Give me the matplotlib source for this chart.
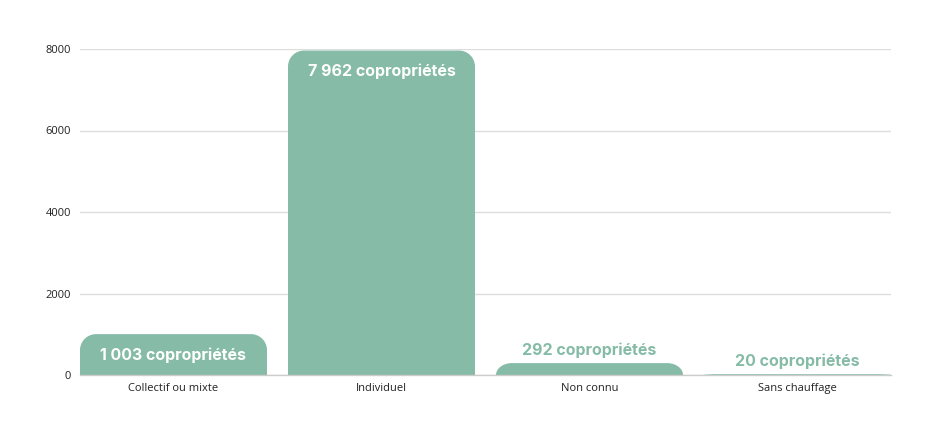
import numpy as np
import matplotlib
matplotlib.use("Agg")
import matplotlib.pyplot as plt
from matplotlib.path import Path
from matplotlib.patches import PathPatch

categories = ["Collectif ou mixte", "Individuel", "Non connu", "Sans chauffage"]
values = [1003, 7962, 292, 20]
labels = ["1 003 copropriétés", "7 962 copropriétés", "292 copropriétés", "20 copropriétés"]
yticks = [0, 2000, 4000, 6000, 8000]

BAR_COLOR = "#85bba7"
W, H, DPI = 935, 437, 100

fig = plt.figure(figsize=(W / DPI, H / DPI), dpi=DPI)
ax = fig.add_axes([80 / W, 62 / H, 811 / W, 326 / H])

step_px = 208.0
bar_w = 187 / step_px
ax.set_xlim(-bar_w / 2, len(categories) - 1 + bar_w / 2)
ax.set_ylim(0, 8000)

# pixel -> data conversion for rounded corners
px_x = 1 / step_px
px_y = 8000 / 326.0
radius_px = 16


def rounded_top_bar(x, w, h):
    rx = radius_px * px_x
    ry = min(radius_px * px_y, h)
    x0, x1 = x - w / 2, x + w / 2
    k = 0.5523
    verts = [
        (x0, 0), (x0, h - ry),
        (x0, h - ry + k * ry), (x0 + rx - k * rx, h), (x0 + rx, h),
        (x1 - rx, h),
        (x1 - rx + k * rx, h), (x1, h - ry + k * ry), (x1, h - ry),
        (x1, 0), (x0, 0),
    ]
    codes = [Path.MOVETO, Path.LINETO,
             Path.CURVE4, Path.CURVE4, Path.CURVE4,
             Path.LINETO,
             Path.CURVE4, Path.CURVE4, Path.CURVE4,
             Path.LINETO, Path.CLOSEPOLY]
    return PathPatch(Path(verts, codes), facecolor=BAR_COLOR, edgecolor="none", zorder=2)


for i, (v, lab) in enumerate(zip(values, labels)):
    ax.add_patch(rounded_top_bar(i, bar_w, v))
    if v > 800:
        # label inside the bar, near the top
        ax.annotate(lab, (i, v), xytext=(0, -21), textcoords="offset pixels",
                    ha="center", va="center", color="white", fontsize=11.5,
                    fontweight="bold", family="Inter", zorder=3)
    else:
        ax.annotate(lab, (i, v), xytext=(0, 13), textcoords="offset pixels",
                    ha="center", va="center", color=BAR_COLOR, fontsize=11.5,
                    fontweight="bold", family="Inter", zorder=3)

ax.set_yticks(yticks)
ax.set_yticklabels([str(t) for t in yticks], family="Open Sans", fontsize=8, color="#222222")
ax.set_xticks(range(len(categories)))
ax.set_xticklabels(categories, family="Open Sans", fontsize=8, color="#222222")
ax.tick_params(axis="both", length=0)
ax.tick_params(axis="y", pad=6.5)
ax.tick_params(axis="x", pad=5.5)

ax.grid(axis="y", color="#dddddd", linewidth=1, zorder=0)
ax.set_axisbelow(True)
for s in ["top", "right", "left"]:
    ax.spines[s].set_visible(False)
ax.spines["bottom"].set_color("#cccccc")
ax.spines["bottom"].set_linewidth(1)

fig.savefig("out.png", dpi=DPI)
